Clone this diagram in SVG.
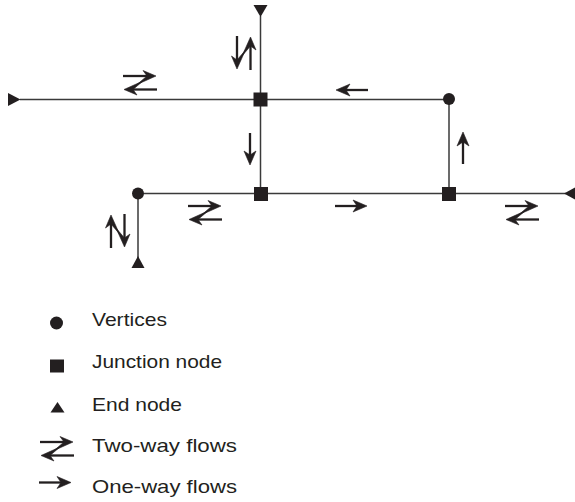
<svg xmlns="http://www.w3.org/2000/svg" xmlns:xlink="http://www.w3.org/1999/xlink" width="575" height="502" viewBox="0 0 575 502">
<style>
.ln{stroke:#3a3a3a;stroke-width:1.5;fill:none}
.nd{fill:#231f20}
.sh{stroke:#231f20;stroke-width:2.3;fill:none}
.hd{fill:#231f20;stroke:#231f20;stroke-width:0.6;stroke-linejoin:miter}
.lbl{font-family:"Liberation Sans",Arial,sans-serif;font-size:18.5px;fill:#231f20}
</style>
<defs>
<g id="ow">
<line class="sh" x1="0" y1="0" x2="23" y2="0"/>
<polygon class="hd" points="32,0 18,-6 22,0 18,6"/>
</g>
<g id="tw">
<line class="sh" x1="0" y1="0" x2="25" y2="0"/>
<polygon class="hd" points="33,0 20,-5.5 24,0 14,8.5"/>
<line class="sh" x1="9" y1="13.5" x2="34" y2="13.5"/>
<polygon class="hd" points="1,13.5 14,19 10,13.5 20,5"/>
</g>
</defs>
<g id="connectors">
<line class="ln" x1="20" y1="99.5" x2="449" y2="99.5"/>
<line class="ln" x1="260.5" y1="16" x2="260.5" y2="194"/>
<line class="ln" x1="138" y1="193.5" x2="566" y2="193.5"/>
<line class="ln" x1="449" y1="99.5" x2="449" y2="194"/>
<line class="ln" x1="138" y1="193.5" x2="138" y2="258"/>
</g>
<g id="flows">
<use xlink:href="#tw" transform="translate(123,76)"/>
<use xlink:href="#tw" transform="matrix(0,1,1,0,237,36)"/>
<use xlink:href="#ow" transform="translate(368,90) rotate(180)"/>
<use xlink:href="#ow" transform="translate(250,133) rotate(90)"/>
<use xlink:href="#ow" transform="translate(463,164) rotate(-90)"/>
<use xlink:href="#ow" transform="translate(335,206)"/>
<use xlink:href="#tw" transform="translate(188,206)"/>
<use xlink:href="#tw" transform="translate(505,206)"/>
<use xlink:href="#tw" transform="translate(111,248) rotate(-90)"/>
</g>
<g id="end-top"><polygon class="nd" points="253.5,5 267.5,5 260.5,17"/></g>
<g id="end-left"><polygon class="nd" points="8,93 20.5,99.5 8,106"/></g>
<g id="end-right"><polygon class="nd" points="564,193.5 576,187 576,200"/></g>
<g id="end-bottom"><polygon class="nd" points="131.5,268 144.5,268 138,256"/></g>
<g id="junction-1"><rect class="nd" x="253.5" y="92.5" width="14" height="14"/></g>
<g id="junction-2"><rect class="nd" x="254" y="187" width="14" height="14"/></g>
<g id="junction-3"><rect class="nd" x="442" y="187" width="14" height="14"/></g>
<g id="vertex-1"><circle class="nd" cx="449" cy="99" r="6"/></g>
<g id="vertex-2"><circle class="nd" cx="138" cy="193.5" r="6"/></g>
<g id="legend">
<circle class="nd" cx="56.5" cy="323" r="6.5"/>
<text class="lbl" x="92" y="325.7" textLength="75" lengthAdjust="spacingAndGlyphs">Vertices</text>
<rect class="nd" x="50" y="359.5" width="14" height="13"/>
<text class="lbl" x="92" y="368.3" textLength="130" lengthAdjust="spacingAndGlyphs">Junction node</text>
<polygon class="nd" points="50.5,412.5 64.5,412.5 57.5,402"/>
<text class="lbl" x="92" y="410.7" textLength="90" lengthAdjust="spacingAndGlyphs">End node</text>
<use xlink:href="#tw" transform="translate(40,442)"/>
<text class="lbl" x="92" y="451.5" textLength="145" lengthAdjust="spacingAndGlyphs">Two-way flows</text>
<use xlink:href="#ow" transform="translate(39,482.5)"/>
<text class="lbl" x="92" y="493" textLength="145" lengthAdjust="spacingAndGlyphs">One-way flows</text>
</g>
</svg>
